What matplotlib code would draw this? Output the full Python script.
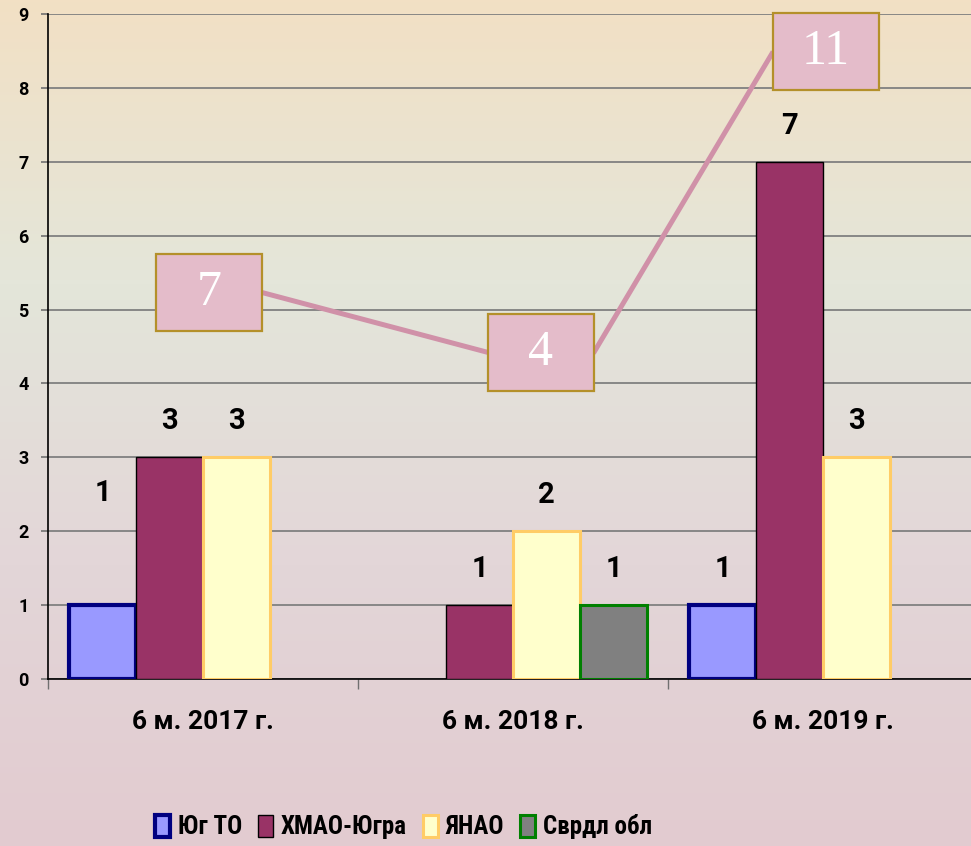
import numpy as np
import matplotlib
matplotlib.use("Agg")
import matplotlib.pyplot as plt
from matplotlib.patches import Patch, Rectangle
from matplotlib.colors import LinearSegmentedColormap
from matplotlib import font_manager

plt.rcParams['font.family'] = ['Roboto', 'DejaVu Sans']

periods = ["6 м. 2017 г.", "6 м. 2018 г.", "6 м. 2019 г."]
series_names = ["Юг ТО", "ХМАО-Югра", "ЯНАО", "Сврдл обл"]
yug_to = [1, np.nan, 1]
hmao = [3, 1, 7]
yanao = [3, 2, 3]
sverdl = [np.nan, 1, np.nan]
totals = [7, 4, 11]

# total boxes were dragged by hand in the original, keep their spots here
total_box_x = [0.02, 1.09, 2.01]
total_box_y = [5.23, 4.42, 8.49]
box_hw, box_hh = 0.171, 0.52

faces = ['#9999FF', '#993366', '#FFFFCC', '#808080']
edges = ['#000080', '#000000', '#FFCC66', '#008000']
edge_w = [3.0, 1.0, 2.2, 2.2]

fig = plt.figure(figsize=(9.71, 8.46), dpi=100)

# background gradient
bg = fig.add_axes([0, 0, 1, 1])
grad = LinearSegmentedColormap.from_list('bg', ['#F2E0C4', '#E4E6DA', '#E3D6D8', '#E2CBD0'])
bg.imshow(np.linspace(0, 1, 256).reshape(-1, 1), aspect='auto', cmap=grad,
          extent=[0, 1, 0, 1])
bg.axis('off')

ax = fig.add_axes([48/971, 1-679/846, 930/971, 665/846])
ax.patch.set_alpha(0)

w = 0.216
x = np.arange(len(periods))
data = [yug_to, hmao, yanao, sverdl]
lift = {(0, 0): 55}  # that one label sits higher in the original
for i, vals in enumerate(data):
    xs = x + (i - 1.5) * w
    ax.bar(xs, vals, w, color=faces[i], edgecolor=edges[i], linewidth=edge_w[i],
           zorder=3, label=series_names[i])
    for j, (xi, v) in enumerate(zip(xs, vals)):
        if np.isnan(v):
            continue
        ax.annotate(f"{v:g}", (xi, v), xytext=(0, 26 + lift.get((i, j), 0)),
                    textcoords='offset points', ha='center', va='center',
                    fontsize=21, fontweight='bold', zorder=6)

# line of totals, drawn between the label boxes
lx, ly = [], []
for k in range(len(totals)):
    if k > 0:
        lx.append(total_box_x[k] - box_hw)
        ly.append(total_box_y[k])
    if k < len(totals) - 1:
        lx.append(total_box_x[k] + box_hw)
        ly.append(total_box_y[k])
ax.plot(lx, ly, color='#D091A8', lw=3.6, solid_capstyle='butt', zorder=4, clip_on=False)

for cx, cy, t in zip(total_box_x, total_box_y, totals):
    ax.add_patch(Rectangle((cx - box_hw, cy - box_hh), 2 * box_hw, 2 * box_hh,
                           facecolor='#E4BCCA', edgecolor='#B4902A', lw=1.6, zorder=5,
                           clip_on=False))
    ax.text(cx, cy, str(t), ha='center', va='center', color='white',
            fontsize=36, family=['Liberation Serif', 'DejaVu Serif'], zorder=6)

ax.set_xlim(-0.5, 2.5)
ax.set_ylim(0, 9)
ax.set_yticks(range(10))
ax.set_yticklabels([str(v) for v in range(10)], fontsize=13, fontweight='bold')
ax.set_xticks([-0.5, 0.5, 1.5, 2.5])
ax.set_xticklabels([])
ax.set_xticks(x, minor=True)
ax.set_xticklabels(periods, minor=True, fontsize=19, fontweight='bold')
ax.tick_params(axis='x', which='major', length=7, color='#707070', width=1)
ax.tick_params(axis='x', which='minor', length=0, pad=22)
ax.tick_params(axis='y', length=5, color='#707070', width=1.2, pad=9)
ax.grid(axis='y', color='#808080', lw=1.3)
ax.set_axisbelow(True)
for s in ['top', 'right']:
    ax.spines[s].set_visible(False)
ax.spines['left'].set_linewidth(1.2)
ax.spines['bottom'].set_linewidth(1.2)

# legend text in the original is a squeezed bold face
names = {f.name for f in font_manager.fontManager.ttflist}
narrow = [n for n in ['Roboto Condensed', 'Liberation Sans Narrow'] if n in names]

handles = [Patch(facecolor=faces[i], edgecolor=edges[i], linewidth=edge_w[i])
           for i in range(4)]
leg = fig.legend(handles, series_names, loc='center', bbox_to_anchor=(0.4156, 0.0225),
                 ncol=4, frameon=False, handlelength=0.6, handleheight=1.0,
                 handletextpad=0.3, columnspacing=0.65,
                 prop={'family': narrow + ['Roboto', 'DejaVu Sans'],
                       'weight': 'bold', 'size': 18, 'stretch': 'condensed'})

fig.savefig('out.png', dpi=100)
